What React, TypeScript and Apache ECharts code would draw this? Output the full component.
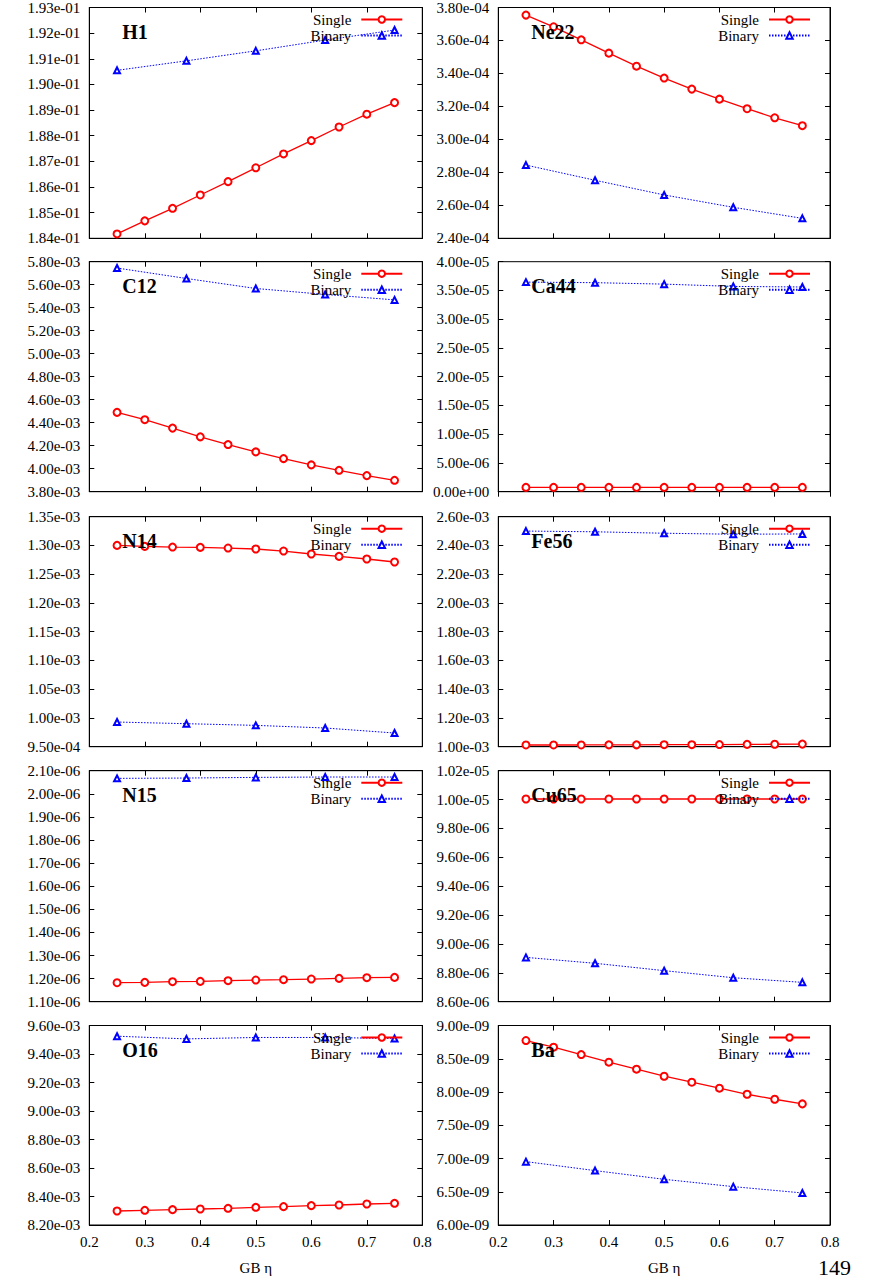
import React, { useEffect, useRef } from "react";
import * as echarts from "echarts";

const X_SINGLE = [0.25, 0.3, 0.35, 0.4, 0.45, 0.5, 0.55, 0.6, 0.65, 0.7, 0.75];
const X_BINARY = [0.25, 0.375, 0.5, 0.625, 0.75];
const X_TICKS = { min: 0.2, max: 0.8, interval: 0.1 };

const H1_SINGLE = [0.18417, 0.18468, 0.18517, 0.18569, 0.18621, 0.18675, 0.18729, 0.18781, 0.18834, 0.18884, 0.18929];
const H1_BINARY = [0.19055, 0.19092, 0.19131, 0.19173, 0.19212];
const NE22_SINGLE = [3.754e-4, 3.683e-4, 3.604e-4, 3.523e-4, 3.444e-4, 3.372e-4, 3.305e-4, 3.244e-4, 3.186e-4, 3.131e-4, 3.083e-4];
const NE22_BINARY = [2.844e-4, 2.752e-4, 2.663e-4, 2.588e-4, 2.521e-4];
const C12_SINGLE = [4.49e-3, 4.426e-3, 4.353e-3, 4.277e-3, 4.21e-3, 4.146e-3, 4.088e-3, 4.033e-3, 3.986e-3, 3.94e-3, 3.899e-3];
const C12_BINARY = [5.745e-3, 5.654e-3, 5.567e-3, 5.515e-3, 5.468e-3];
const CA44_SINGLE = [7.5e-7, 7.5e-7, 7.5e-7, 7.5e-7, 7.5e-7, 7.5e-7, 7.5e-7, 7.5e-7, 7.5e-7, 7.5e-7, 7.5e-7];
const CA44_BINARY = [3.645e-5, 3.635e-5, 3.61e-5, 3.57e-5, 3.56e-5];
const N14_SINGLE = [1.3001e-3, 1.2984e-3, 1.2972e-3, 1.2967e-3, 1.2955e-3, 1.2938e-3, 1.2903e-3, 1.2851e-3, 1.281e-3, 1.2764e-3, 1.2712e-3];
const N14_BINARY = [0.9929e-3, 0.99e-3, 0.9871e-3, 0.9825e-3, 0.9738e-3];
const FE56_SINGLE = [1.012e-3, 1.012e-3, 1.012e-3, 1.013e-3, 1.013e-3, 1.014e-3, 1.014e-3, 1.015e-3, 1.016e-3, 1.017e-3, 1.018e-3];
const FE56_BINARY = [2.5e-3, 2.495e-3, 2.485e-3, 2.478e-3, 2.48e-3];
const N15_SINGLE = [1.1822e-6, 1.1837e-6, 1.1866e-6, 1.188e-6, 1.1909e-6, 1.1938e-6, 1.1952e-6, 1.1981e-6, 1.201e-6, 1.2039e-6, 1.2053e-6];
const N15_BINARY = [2.0668e-6, 2.0682e-6, 2.0711e-6, 2.0726e-6, 2.0726e-6];
const CU65_SINGLE = [1.0004e-5, 1.0004e-5, 1.0004e-5, 1.0004e-5, 1.0004e-5, 1.0004e-5, 1.0004e-5, 1.0004e-5, 1.0004e-5, 1.0004e-5, 1.0004e-5];
const CU65_BINARY = [8.907e-6, 8.866e-6, 8.815e-6, 8.766e-6, 8.734e-6];
const O16_SINGLE = [8.2983e-3, 8.303e-3, 8.3077e-3, 8.3124e-3, 8.3171e-3, 8.3241e-3, 8.3288e-3, 8.3358e-3, 8.3405e-3, 8.3475e-3, 8.3522e-3];
const O16_BINARY = [9.525e-3, 9.506e-3, 9.516e-3, 9.516e-3, 9.509e-3];
const BA_SINGLE = [8.774e-9, 8.674e-9, 8.563e-9, 8.448e-9, 8.343e-9, 8.237e-9, 8.147e-9, 8.057e-9, 7.966e-9, 7.891e-9, 7.821e-9];
const BA_BINARY = [6.953e-9, 6.818e-9, 6.687e-9, 6.577e-9, 6.482e-9];

const LEFT_PANELS = [
  { name: "H1", single: H1_SINGLE, binary: H1_BINARY, min: 0.184, max: 0.193, interval: 0.001 },
  { name: "C12", single: C12_SINGLE, binary: C12_BINARY, min: 3.8e-3, max: 5.8e-3, interval: 2e-4 },
  { name: "N14", single: N14_SINGLE, binary: N14_BINARY, min: 9.5e-4, max: 1.35e-3, interval: 5e-5 },
  { name: "N15", single: N15_SINGLE, binary: N15_BINARY, min: 1.1e-6, max: 2.1e-6, interval: 1e-7 },
  { name: "O16", single: O16_SINGLE, binary: O16_BINARY, min: 8.2e-3, max: 9.6e-3, interval: 2e-4 },
];
const RIGHT_PANELS = [
  { name: "Ne22", single: NE22_SINGLE, binary: NE22_BINARY, min: 2.4e-4, max: 3.8e-4, interval: 2e-5 },
  { name: "Ca44", single: CA44_SINGLE, binary: CA44_BINARY, min: 0, max: 4e-5, interval: 5e-6 },
  { name: "Fe56", single: FE56_SINGLE, binary: FE56_BINARY, min: 1e-3, max: 2.6e-3, interval: 2e-4 },
  { name: "Cu65", single: CU65_SINGLE, binary: CU65_BINARY, min: 8.6e-6, max: 1.02e-5, interval: 2e-7 },
  { name: "Ba", single: BA_SINGLE, binary: BA_BINARY, min: 6e-9, max: 9e-9, interval: 5e-10 },
];
const SERIES_NAMES = ["Single", "Binary"];
const X_NAME = "GB η";
const PAGE_NUMBER = "149";

// layout
const W = 881;
const H = 1278;
const COL_LEFT = [89.3, 498.3];
const COL_WIDTH = [333, 331.7];
const ROW_TOP = [7.5, 261.7, 516.7, 770.7, 1025.5];
const ROW_HEIGHT = [230.8, 230, 230, 231, 199.5];
const FONT = "Liberation Serif";

function fmtExp(v: number): string {
  if (Math.abs(v) < 1e-30) return "0.00e+00";
  const s = v.toExponential(2);
  const [m, e] = s.split("e");
  const sign = e[0];
  const num = e.slice(1).padStart(2, "0");
  return m + "e" + sign + num;
}

function buildOption() {
  const grid: any[] = [];
  const xAxis: any[] = [];
  const yAxis: any[] = [];
  const series: any[] = [];
  const legend: any[] = [];
  const graphic: any[] = [];
  let gi = 0;
  const cols = [LEFT_PANELS, RIGHT_PANELS];
  cols.forEach((panels, c) => {
    panels.forEach((p, r) => {
      const left = COL_LEFT[c];
      const width = COL_WIDTH[c];
      const top = ROW_TOP[r];
      const height = ROW_HEIGHT[r];
      const isBottom = r === panels.length - 1;
      grid.push({
        left,
        top,
        width,
        height,
        show: true,
        borderColor: "#000",
        borderWidth: 1,
        backgroundColor: "transparent",
      });
      const axisLine = { show: true, lineStyle: { color: "#000", width: 1 } };
      const axisTick = { show: true, inside: true, length: 5, lineStyle: { color: "#000", width: 1 } };
      xAxis.push({
        type: "value",
        gridIndex: gi,
        position: "bottom",
        min: X_TICKS.min,
        max: X_TICKS.max,
        interval: X_TICKS.interval,
        axisLine,
        axisTick,
        splitLine: { show: false },
        axisLabel: {
          show: isBottom,
          color: "#000",
          fontFamily: FONT,
          fontSize: 15,
          margin: 9,
          formatter: (v: number) => v.toFixed(1),
        },
        name: isBottom ? X_NAME : "",
        nameLocation: "middle",
        nameGap: 35,
        nameTextStyle: { color: "#000", fontFamily: FONT, fontSize: 15 },
      });
      xAxis.push({
        type: "value",
        gridIndex: gi,
        position: "top",
        min: X_TICKS.min,
        max: X_TICKS.max,
        interval: X_TICKS.interval,
        axisLine,
        axisTick,
        splitLine: { show: false },
        axisLabel: { show: false },
      });
      yAxis.push({
        type: "value",
        gridIndex: gi,
        position: "left",
        min: p.min,
        max: p.max,
        interval: p.interval,
        axisLine,
        axisTick,
        splitLine: { show: false },
        axisLabel: {
          show: true,
          color: "#000",
          fontFamily: FONT,
          fontSize: 15,
          margin: 9,
          showMinLabel: true,
          showMaxLabel: true,
          formatter: (v: number) => fmtExp(v),
        },
      });
      yAxis.push({
        type: "value",
        gridIndex: gi,
        position: "right",
        min: p.min,
        max: p.max,
        interval: p.interval,
        axisLine,
        axisTick,
        splitLine: { show: false },
        axisLabel: { show: false },
      });
      series.push({
        name: SERIES_NAMES[0],
        type: "line",
        xAxisIndex: gi * 2,
        yAxisIndex: gi * 2,
        data: X_SINGLE.map((x, i) => [x, p.single[i]]),
        symbol: "emptyCircle",
        symbolSize: 7,
        color: "#ff0000",
        lineStyle: { color: "#ff0000", width: 1.3, type: "solid" },
        itemStyle: { color: "#ff0000", borderColor: "#ff0000", borderWidth: 1.2 },
        z: 3,
      });
      series.push({
        name: SERIES_NAMES[1],
        type: "line",
        xAxisIndex: gi * 2,
        yAxisIndex: gi * 2,
        data: X_BINARY.map((x, i) => [x, p.binary[i]]),
        symbol: "emptyTriangle",
        symbolSize: 6,
        color: "#0000ff",
        lineStyle: { color: "#0000ff", width: 1, type: [1.5, 1.5] },
        itemStyle: { color: "#0000ff", borderColor: "#0000ff", borderWidth: 1.2 },
        z: 2,
      });
      legend.push({
        data: SERIES_NAMES,
        orient: "vertical",
        align: "right",
        right: W - (left + width - 19),
        top: top + 4.5,
        padding: 0,
        itemGap: 1,
        itemWidth: 41,
        itemHeight: 8,
        selectedMode: false,
        textStyle: {
          color: "#000",
          fontFamily: FONT,
          fontSize: 15,
          lineHeight: 14,
          padding: [0, 5, 0, 0],
        },
      });
      graphic.push({
        type: "text",
        left: left + 33,
        top: top + 14,
        style: {
          text: p.name,
          fill: "#000",
          fontFamily: FONT,
          fontSize: 20,
          fontWeight: "bold",
        },
        z: 10,
      });
      gi++;
    });
  });
  graphic.push({
    type: "text",
    left: 818,
    top: 1256,
    style: { text: PAGE_NUMBER, fill: "#000", fontFamily: FONT, fontSize: 22 },
  });
  return {
    animation: false,
    backgroundColor: "#fff",
    textStyle: { fontFamily: FONT },
    grid,
    xAxis,
    yAxis,
    series,
    legend,
    graphic,
  };
}

export default function App() {
  const ref = useRef<HTMLDivElement>(null);
  useEffect(() => {
    if (!ref.current) return;
    const chart = echarts.init(ref.current, undefined, { renderer: "svg", width: W, height: H });
    chart.setOption(buildOption() as any);
    return () => chart.dispose();
  }, []);
  return (
    <div
      ref={ref}
      style={{ position: "absolute", left: 0, top: 0, width: W, height: H, background: "#fff" }}
    />
  );
}
